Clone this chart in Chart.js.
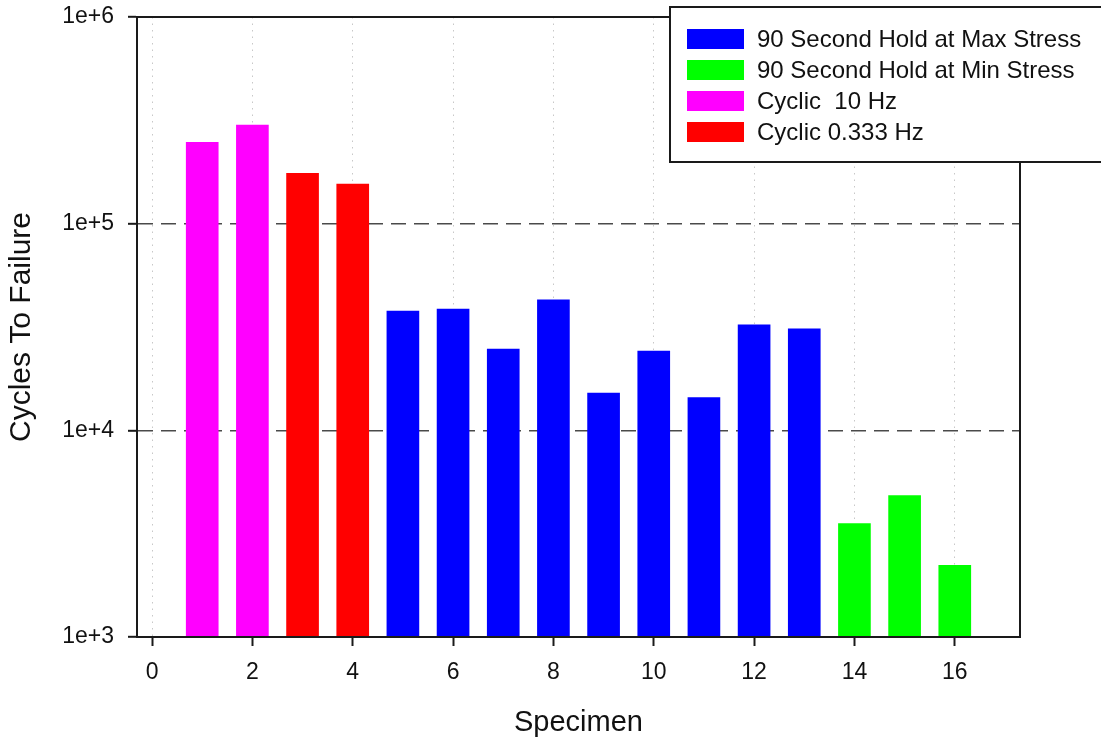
<!DOCTYPE html>
<html>
<head>
<meta charset="utf-8">
<script src="https://cdn.jsdelivr.net/npm/chart.js@4/dist/chart.umd.min.js"></script>
<style>
  html, body { margin: 0; padding: 0; background: #ffffff; }
  #wrap { width: 1101px; height: 742px; position: relative; }
</style>
</head>
<body>
<div id="wrap"><canvas id="c" width="1101" height="742"></canvas></div>
<script>
// ---- data ----
const seriesLabels = ['90 Second Hold at Max Stress', '90 Second Hold at Min Stress', 'Cyclic  10 Hz', 'Cyclic 0.333 Hz'];
const seriesColors = ['#0000ff', '#00ff00', '#ff00ff', '#ff0000'];

const maxHoldSpecimens = [5, 6, 7, 8, 9, 10, 11, 12, 13];
const maxHoldCycles = [37750, 38600, 24740, 42800, 15160, 24190, 14390, 32400, 30990];

const minHoldSpecimens = [14, 15, 16];
const minHoldCycles = [3540, 4840, 2220];

const cyclic10Specimens = [1, 2];
const cyclic10Cycles = [247300, 300000];

const cyclic0333Specimens = [3, 4];
const cyclic0333Cycles = [175200, 155500];

const xTickValues = [0, 2, 4, 6, 8, 10, 12, 14, 16];
const yTickValues = [1000, 10000, 100000, 1000000];
const yTickLabels = ['1e+3', '1e+4', '1e+5', '1e+6'];

const xTitle = 'Specimen';
const yTitle = 'Cycles To Failure';

// ---- build ----
function pts(xs, ys) { return xs.map((x, i) => ({ x: x, y: ys[i] })); }
const seriesData = [
  pts(maxHoldSpecimens, maxHoldCycles),
  pts(minHoldSpecimens, minHoldCycles),
  pts(cyclic10Specimens, cyclic10Cycles),
  pts(cyclic0333Specimens, cyclic0333Cycles)
];

const FONT = '"Liberation Sans", Arial, sans-serif';

const framePlugin = {
  id: 'frame',
  afterDatasetsDraw(chart) {
    const { ctx, chartArea: a } = chart;
    ctx.save();
    ctx.strokeStyle = '#1a1a1a';
    ctx.lineWidth = 2;
    ctx.strokeRect(a.left, a.top, a.right - a.left, a.bottom - a.top);
    ctx.restore();
  }
};

const legendPlugin = {
  id: 'boxLegend',
  afterDraw(chart) {
    const ctx = chart.ctx;
    const bx = 670, by = 7, bw = 440, bh = 155;
    ctx.save();
    ctx.fillStyle = '#ffffff';
    ctx.fillRect(bx, by, bw, bh);
    ctx.strokeStyle = '#1a1a1a';
    ctx.lineWidth = 2;
    ctx.strokeRect(bx, by, bw, bh);
    ctx.font = '24px ' + FONT;
    ctx.textBaseline = 'middle';
    ctx.textAlign = 'left';
    chart.data.datasets.forEach((ds, i) => {
      const cy = 39 + i * 31;
      ctx.fillStyle = ds.backgroundColor;
      ctx.fillRect(687, cy - 10, 57, 20);
      ctx.fillStyle = '#111111';
      ctx.fillText(ds.label, 757, cy + 1);
    });
    ctx.restore();
  }
};

new Chart(document.getElementById('c'), {
  type: 'bar',
  data: {
    datasets: seriesData.map((d, i) => ({
      label: seriesLabels[i],
      data: d,
      backgroundColor: seriesColors[i],
      borderWidth: 0,
      barThickness: 32,
      grouped: false
    }))
  },
  options: {
    responsive: false,
    animation: false,
    devicePixelRatio: 1,
    layout: { padding: { top: 17, right: 81, bottom: 0, left: 0 } },
    plugins: { legend: { display: false }, tooltip: { enabled: false } },
    scales: {
      x: {
        type: 'linear',
        min: -0.3,
        max: 17.3,
        offset: false,
        afterBuildTicks: s => { s.ticks = xTickValues.map(v => ({ value: v })); },
        afterFit: s => { s.height = 105; s.paddingLeft = 0; s.paddingRight = 0; },
        ticks: {
          color: '#111111',
          font: { family: FONT, size: 23 },
          padding: 13,
          maxRotation: 0,
          autoSkip: false
        },
        grid: {
          offset: false,
          color: '#c8c8c8',
          lineWidth: 1,
          tickLength: 9,
          tickColor: '#1a1a1a',
          tickWidth: 2
        },
        border: { display: true, color: '#1a1a1a', width: 2, dash: [1.5, 5] },
        title: {
          display: true,
          text: xTitle,
          color: '#111111',
          font: { family: FONT, size: 29 },
          padding: { top: 0, bottom: 2 }
        }
      },
      y: {
        type: 'logarithmic',
        min: 1000,
        max: 1000000,
        afterBuildTicks: s => { s.ticks = yTickValues.map(v => ({ value: v })); },
        afterFit: s => { s.width = 137; s.paddingTop = 0; s.paddingBottom = 0; },
        ticks: {
          color: '#111111',
          font: { family: FONT, size: 23 },
          padding: 14,
          autoSkip: false,
          callback: (v) => {
            const i = yTickValues.indexOf(v);
            return i >= 0 ? yTickLabels[i] : '';
          }
        },
        grid: {
          color: (ctx) => {
            const v = ctx.tick && ctx.tick.value;
            return (v === 10000 || v === 100000) ? '#4a4a4a' : 'rgba(0,0,0,0)';
          },
          lineWidth: 1.6,
          tickLength: 9,
          tickColor: '#1a1a1a',
          tickWidth: 2
        },
        border: { display: true, color: '#1a1a1a', width: 2, dash: [15, 8] },
        title: {
          display: true,
          text: yTitle,
          color: '#111111',
          font: { family: FONT, size: 30 },
          padding: { top: 4, bottom: 0 }
        }
      }
    }
  },
  plugins: [framePlugin, legendPlugin]
});
</script>
</body>
</html>
